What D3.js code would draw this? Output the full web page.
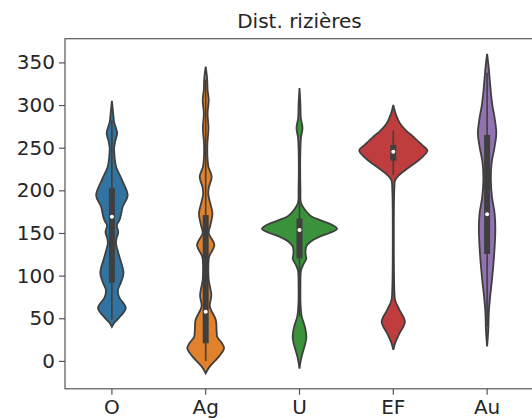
<!DOCTYPE html>
<html>
<head>
<meta charset="utf-8">
<script src="https://cdn.jsdelivr.net/npm/d3@7"></script>
<style>
  body { margin: 0; background: #fff; }
  text { font-family: "DejaVu Sans", sans-serif; fill: #262626; }
</style>
</head>
<body>
<script>
// categories + colours (seaborn desaturated tab10)
var categories = ["O", "Ag", "U", "EF", "Au"];
var colors = ["#3274a1", "#e1812c", "#3a923a", "#c03d3e", "#9372b2"];
var yTicks = [0, 50, 100, 150, 200, 250, 300, 350];

// violin outlines: [value, relative half-width]
var densO = [[40,0],[45,0.07],[52,0.22],[62,0.37],[75,0.19],[83,0.16],[92,0.24],[103,0.31],[125,0.18],
  [138,0.11],[143,0.12],[151,0.17],[159,0.13],[165,0.2],[171,0.24],[181,0.29],[194,0.42],[212,0.27],
  [228,0.11],[240,0.07],[250,0.06],[258,0.09],[267,0.14],[280,0.06],[290,0.035],[305,0]];
var densAg = [[-14.5,0],[-7,0.1],[5,0.35],[15,0.49],[21,0.43],[28,0.31],[36,0.29],[48,0.27],[64,0.11],
  [77,0.15],[95,0.08],[110,0.07],[122,0.09],[136,0.23],[150,0.08],[160,0.13],[173,0.18],[185,0.12],
  [195,0.07],[203,0.08],[216,0.16],[228,0.07],[240,0.045],[255,0.045],[273,0.075],[290,0.05],
  [306,0.08],[318,0.05],[330,0.04],[345,0]];
var densU = [[-9,0],[2,0.04],[12,0.1],[18,0.14],[26,0.18],[34,0.17],[42,0.13],[52,0.06],[65,0.03],
  [90,0.025],[106,0.04],[113,0.1],[120,0.18],[126,0.16],[134,0.18],[140,0.3],[146,0.55],[150,0.8],
  [155,1.0],[160,0.85],[165,0.55],[170,0.3],[177,0.15],[185,0.04],[200,0.025],[250,0.025],[262,0.04],
  [273,0.08],[285,0.035],[300,0.025],[320,0]];
var densEF = [[13,0],[21,0.05],[32,0.16],[46,0.31],[60,0.16],[71,0.05],[80,0.03],[205,0.03],
  [212,0.05],[218,0.16],[228,0.45],[238,0.75],[247,0.91],[253,0.77],[263,0.53],[270,0.34],
  [279,0.17],[290,0.06],[300,0]];
var densAu = [[17,0],[35,0.03],[56,0.045],[75,0.08],[95,0.13],[126,0.19],[155,0.22],[173,0.2],
  [192,0.13],[212,0.1],[232,0.12],[251,0.2],[267,0.245],[285,0.2],[300,0.14],[315,0.1],[330,0.07],
  [345,0.04],[360,0]];
var densities = [densO, densAg, densU, densEF, densAu];

// inner box stats
var q1s = [91.7, 20.6, 120.3, 234.8, 125.4];
var medians = [169, 57.7, 153.5, 245.3, 171.9];
var q3s = [202.4, 171, 167, 253.2, 264.9];
var whiskLow = [48, 0, 52, 218, 40];
var whiskHigh = [282, 330, 236, 270, 338];

var width = 532, height = 418;
var margin = {top: 38.7, right: -2, bottom: 29.2, left: 65};
var gray = "#3f3f3f";

var svg = d3.select("body").append("svg")
    .attr("width", width)
    .attr("height", height);

var x = d3.scaleBand()
    .domain(categories)
    .range([margin.left, width - margin.right])
    .padding(0);

var y = d3.scaleLinear()
    .domain([-32.7, 377.8])
    .range([height - margin.bottom, margin.top]);

var w = d3.scaleLinear()
    .domain([0, 1])
    .range([0, x.bandwidth() * 0.4]);

var violins = svg.selectAll(".violin")
    .data(categories)
    .enter().append("g")
    .attr("class", "violin");

violins.append("path")
    .attr("d", function(c, i) {
      var cx = x(c) + x.bandwidth() / 2;
      return d3.area()
        .curve(d3.curveCatmullRom)
        .y(function(d) { return y(d[0]); })
        .x0(function(d) { return cx - w(d[1]); })
        .x1(function(d) { return cx + w(d[1]); })(densities[i]);
    })
    .style("fill", function(c, i) { return colors[i]; })
    .style("stroke", gray)
    .style("stroke-width", 1.8);

// whiskers
violins.append("line")
    .attr("x1", function(c) { return x(c) + x.bandwidth() / 2; })
    .attr("x2", function(c) { return x(c) + x.bandwidth() / 2; })
    .attr("y1", function(c, i) { return y(whiskLow[i]); })
    .attr("y2", function(c, i) { return y(whiskHigh[i]); })
    .style("stroke", gray)
    .style("stroke-width", 1.6);

// box
violins.append("line")
    .attr("x1", function(c) { return x(c) + x.bandwidth() / 2; })
    .attr("x2", function(c) { return x(c) + x.bandwidth() / 2; })
    .attr("y1", function(c, i) { return y(q1s[i]); })
    .attr("y2", function(c, i) { return y(q3s[i]); })
    .style("stroke", gray)
    .style("stroke-width", 6);

violins.append("circle")
    .attr("cx", function(c) { return x(c) + x.bandwidth() / 2; })
    .attr("cy", function(c, i) { return y(medians[i]); })
    .attr("r", 2)
    .style("fill", "#fff");

// axes
var yAxis = svg.append("g")
    .attr("transform", "translate(" + margin.left + ",0)")
    .call(d3.axisLeft(y).tickValues(yTicks).tickSize(6).tickPadding(4));

var xAxis = svg.append("g")
    .attr("transform", "translate(0," + (height - margin.bottom) + ")")
    .call(d3.axisBottom(x).tickSize(6).tickPadding(5));

[yAxis, xAxis].forEach(function(a) {
  a.select(".domain").remove();
  a.selectAll("line").style("stroke", "#555").style("stroke-width", 1.2);
  a.selectAll("text").style("font-size", "20px").style("fill", "#262626")
    .style("font-family", "'DejaVu Sans', sans-serif");
});

// frame
svg.append("rect")
    .attr("x", margin.left)
    .attr("y", margin.top)
    .attr("width", width - margin.right - margin.left)
    .attr("height", height - margin.bottom - margin.top)
    .style("fill", "none")
    .style("stroke", "#555")
    .style("stroke-width", 1.2);

svg.append("text")
    .attr("x", (margin.left + width - margin.right) / 2)
    .attr("y", 28)
    .attr("text-anchor", "middle")
    .style("font-size", "20px")
    .text("Dist. rizières");
</script>
</body>
</html>
